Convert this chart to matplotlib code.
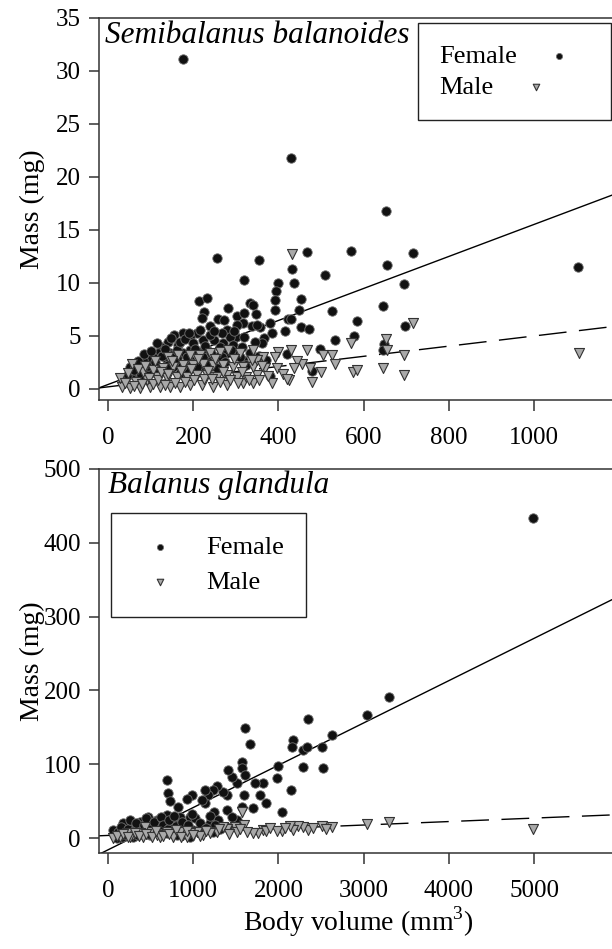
import numpy as np
import matplotlib
matplotlib.use("Agg")
from matplotlib import pyplot as plt

plt.rcParams['font.family'] = ['Liberation Serif', 'DejaVu Serif']
plt.rcParams['mathtext.fontset'] = 'custom'
plt.rcParams['mathtext.rm'] = 'Liberation Serif'

# Semibalanus balanoides - body volume (mm3) vs mass (mg)
sb_female_x = [177, 430, 653, 256, 354, 467, 570, 715, 655, 319, 400, 433, 437, 510, 394,
               695, 213, 232, 225, 220, 282, 302, 319, 333, 341, 347, 392, 392, 453, 448,
               526, 646, 697, 584, 423, 430, 453, 471, 380, 357, 366, 361, 533, 577, 498,
               648, 646, 480, 380, 1103,
               239, 258, 272, 280, 300, 316, 319, 337, 349, 304, 271, 249, 224, 208, 192,
               177, 156, 165, 142, 192, 216, 232, 177, 146, 124, 118, 106, 91, 83, 67,
               52, 59, 44, 138, 161, 192, 232, 255, 279, 302, 318, 333, 286, 239, 267,
               294, 314, 153, 122, 99, 75, 36, 271, 216, 185, 169]
sb_female_y = [31.1, 21.8, 16.8, 12.4, 12.2, 12.9, 13.0, 12.8, 11.7, 10.3, 10.0, 11.3, 10.0, 10.8, 9.2,
               9.9, 8.3, 8.6, 7.3, 6.7, 7.6, 6.9, 7.2, 8.1, 7.9, 7.1, 8.4, 7.45, 8.5, 7.45,
               7.4, 7.8, 5.9, 6.4, 6.6, 6.6, 5.85, 5.7, 6.2, 5.85, 4.8, 4.3, 4.6, 5.0, 3.8,
               4.25, 3.7, 1.7, 1.2, 11.5,
               5.9, 6.6, 6.5, 5.6, 4.9, 6.2, 4.9, 5.9, 6.0, 6.0, 4.3, 4.6, 4.6, 5.25, 4.9,
               5.25, 5.1, 4.15, 4.45, 3.7, 3.5, 3.7, 3.4, 3.4, 4.0, 3.4, 3.05, 2.9, 2.7, 2.1,
               2.1, 1.5, 1.2, 2.7, 2.9, 2.7, 2.7, 3.05, 3.4, 3.2, 2.7, 3.4, 4.9, 5.1, 5.25,
               4.15, 4.0, 2.1, 1.95, 1.5, 1.15, 0.7, 2.4, 2.1, 1.8, 1.5]
sb_female_x2 = [60, 70, 78, 85, 95, 100, 110, 115, 120, 128, 135, 140, 148, 150, 158,
                163, 170, 173, 180, 185, 190, 198, 200, 205, 210, 215, 222, 228, 236, 243,
                250, 256, 262, 268, 275, 288, 296, 310, 325, 345, 355, 370, 385, 415, 420]
sb_female_y2 = [1.8, 2.6, 1.3, 3.3, 2.2, 3.6, 2.5, 4.3, 1.6, 3.1, 3.8, 2.3, 4.8, 3.2, 2.5,
                3.7, 4.4, 2.2, 4.7, 3.0, 5.3, 2.4, 4.3, 3.8, 2.1, 5.6, 3.0, 4.1, 2.4, 3.4,
                5.5, 2.0, 4.0, 3.0, 2.5, 3.7, 5.5, 3.0, 2.3, 4.4, 3.1, 2.7, 5.3, 5.5, 3.3]
sb_male_x = [433, 400, 430, 468, 504, 527, 534, 570, 576, 584, 646, 652, 654, 696, 696,
             425, 480, 499, 474, 455, 443, 437, 396, 384, 341, 318, 279, 247, 220, 192,
             169, 146, 122, 99, 75, 52, 32, 28, 56, 67, 91, 114, 138, 161, 185,
             208, 232, 255, 279, 302, 325, 349, 369, 341, 318, 294, 271, 247, 224, 200,
             177, 153, 130, 106, 83, 142, 165, 192, 216, 239, 263, 282, 310, 341, 365,
             349, 716, 1105]
sb_male_y = [12.7, 3.5, 3.7, 3.7, 3.2, 3.2, 2.4, 4.3, 1.6, 1.8, 1.95, 4.7, 3.7, 3.2, 1.3,
             0.85, 0.7, 1.6, 1.95, 2.4, 2.6, 1.95, 1.95, 0.55, 0.55, 0.55, 0.4, 0.2, 0.4, 0.4,
             0.2, 0.2, 0.2, 0.2, 0.05, 0.05, 0.2, 1.0, 2.4, 0.7, 0.85, 1.15, 1.0, 1.15, 1.15,
             1.3, 1.3, 1.15, 1.3, 1.15, 1.15, 1.3, 1.95, 2.1, 2.1, 2.1, 2.25, 2.25, 2.4, 2.25,
             2.25, 2.1, 1.95, 1.8, 1.6, 3.05, 3.2, 3.2, 3.2, 3.4, 3.5, 3.7, 3.4, 3.7, 3.05,
             2.7, 6.2, 3.4]
sb_male_x2 = [40, 48, 62, 70, 80, 88, 96, 105, 110, 118, 125, 133, 140, 150, 158,
              172, 180, 195, 203, 212, 225, 236, 244, 252, 262, 270, 287, 296, 305, 314,
              330, 338, 355, 362, 375, 392, 410, 420]
sb_male_y2 = [0.6, 1.5, 0.3, 1.9, 0.5, 2.2, 1.0, 0.5, 2.6, 0.8, 1.6, 0.4, 1.4, 2.6, 0.6,
              1.7, 0.7, 1.9, 0.8, 2.8, 0.9, 1.7, 0.9, 2.8, 0.7, 1.6, 0.8, 2.8, 0.6, 1.6,
              0.8, 2.7, 0.8, 2.2, 1.2, 3.0, 1.4, 0.9]
sb_fit_female = (0.42, 0.0151)   # intercept, slope
sb_fit_male = (0.2, 0.0048)

# Balanus glandula
bg_female_x = [4990, 3298, 3036, 2343, 2633, 2508, 2175, 2156, 2293, 2332, 2285, 2520, 1999, 1980, 2148,
               2038, 1823, 1725, 1784, 1608, 1667, 1569, 1569, 1608, 1510, 1452, 1412, 1596, 1569, 1401,
               1393, 1354, 1275, 1236, 1178, 1138, 1138, 1099, 982, 931, 696, 708, 728, 826, 696,
               845, 962, 1021, 1244, 1295, 1197, 1393, 1510, 473, 571, 376, 258, 180, 63, 767,
               689, 571, 454, 336, 884, 1002, 1119, 1236, 689, 493, 297, 160, 102, 806, 962]
bg_female_y = [433, 191, 167, 161, 139, 123, 133, 124, 119, 124, 96, 94.5, 97, 81, 65,
               35, 75, 74, 58, 149, 128, 103.5, 94.5, 85, 74, 83, 92, 58, 42.5, 58,
               38, 63, 70, 65, 58, 47, 65, 51.5, 58, 52.5, 78, 60.6, 50.7, 42.5, 31,
               29, 29, 26.7, 35, 25, 20, 15, 24, 29, 24.4, 22, 17.6, 20, 11, 20,
               15, 15, 13, 15, 15, 11, 13, 8.6, 6.3, 4, 1.8, 1.8, 0, 4, 1.8]
bg_female_x2 = [120, 150, 200, 230, 260, 300, 330, 350, 400, 420, 450, 480, 520, 540, 600,
                620, 650, 700, 720, 750, 780, 800, 850, 870, 900, 940, 980, 1050, 1080, 1150,
                1200, 1260, 1320, 1450, 1700, 1850]
bg_female_y2 = [8, 15, 5, 12, 25, 9, 20, 4, 10, 18, 27, 6, 14, 22, 9,
                28, 17, 12, 24, 8, 30, 16, 11, 22, 6, 18, 33, 9, 20, 14,
                30, 18, 12, 28, 40, 48]
bg_male_x = [4990, 3298, 3036, 2633, 2508, 2343, 2293, 2234, 2175, 2136, 2038, 1980, 1823, 1765, 1706,
             1596, 1569, 1491, 1401, 1354, 1275, 1197, 1119, 1041, 962, 884, 845, 767, 689, 571,
             493, 434, 376, 297, 219, 141, 63, 258, 415, 610, 767, 923, 1080, 1510, 1628]
bg_male_y = [12, 22, 18.5, 15.4, 16.7, 11, 15.4, 16.7, 11, 16.7, 10, 10, 11, 6.3, 7.2,
             17.6, 35.7, 15.4, 11.8, 15.4, 8.6, 6.3, 4, 8.6, 6.3, 4, 8.6, 4, 8.6, 4,
             8.6, 15.4, 6.3, 4, 6.3, 1.8, 0, 1, 1, 1.8, 1, 1.8, 2.7, 8.6, 8.6]
bg_male_x2 = [100, 180, 240, 320, 360, 450, 520, 560, 640, 720, 800, 860, 930, 1000, 1150,
              1300, 1420, 1550, 1850, 1900, 2080, 2400, 2560]
bg_male_y2 = [3, 5, 2, 7, 3, 5, 2, 9, 3, 6, 11, 2, 9, 4, 9,
              12, 6, 12, 9, 13, 13, 14, 12]
bg_fit_female = (-16.0, 0.0573)
bg_fit_male = (3.5, 0.0047)

FEMALE = dict(marker='o', s=46, facecolor='#111111', edgecolor='#707070', linewidths=0.6, zorder=3)
MALE = dict(marker='v', s=52, facecolor='#a9a9a9', edgecolor='#333333', linewidths=0.8, zorder=4)
DASH = (0, (20, 9))


def style_axes(ax):
	ax.spines['right'].set_visible(False)
	for s in ['left', 'bottom', 'top']:
		ax.spines[s].set_linewidth(1.1)
		ax.spines[s].set_color('#333333')
	ax.tick_params(axis='y', direction='out', length=7, width=1.1, pad=6, labelsize=18, color='#333333')
	ax.tick_params(axis='x', direction='out', length=8, width=1.1, pad=11.5, labelsize=18, color='#333333')


def fit_line(ax, fit, **kw):
	xs = np.array(ax.get_xlim())
	ax.plot(xs, fit[0] + fit[1] * xs, color='black', lw=1.0, zorder=2, **kw)


def left_align_legend(leg):
	# marker on the right, but text rows flush left like the original
	for col in leg._legend_box.get_children()[1].get_children():
		col.align = 'left'


fig = plt.figure(figsize=(6.12, 9.49), dpi=100)
ax1 = fig.add_axes([99 / 612, 1 - 400 / 949, 541 / 612, 382 / 949])
ax2 = fig.add_axes([99 / 612, 1 - 853 / 949, 541 / 612, 384 / 949])

# top panel
ax1.set_xlim(-21, 1249)
ax1.set_ylim(-1.04, 35)
ax1.scatter(sb_female_x + sb_female_x2, sb_female_y + sb_female_y2, label='Female', **FEMALE)
ax1.scatter(sb_male_x + sb_male_x2, sb_male_y + sb_male_y2, label='Male', **MALE)
fit_line(ax1, sb_fit_female)
fit_line(ax1, sb_fit_male, linestyle=DASH)
ax1.set_xticks(range(0, 1001, 200))
ax1.set_yticks(range(0, 36, 5))
style_axes(ax1)
ax1.set_ylabel('Mass (mg)', fontsize=20)
ax1.yaxis.set_label_coords(-0.10, 0.5)
ax1.text(0.011, 0.992, 'Semibalanus balanoides', transform=ax1.transAxes, fontsize=22.5,
		 style='italic', ha='left', va='top')
leg = ax1.legend(loc='upper left', bbox_to_anchor=(0.59, 0.987), fontsize=19, markerfirst=False,
				 frameon=True, fancybox=False, framealpha=1, edgecolor='#222222', borderpad=0.8,
				 labelspacing=0.3, handlelength=2.3, handletextpad=0.45, markerscale=0.65,
				 borderaxespad=0)
leg.get_frame().set_linewidth(1.0)
left_align_legend(leg)

# bottom panel
ax2.set_xlim(-106, 6244)
ax2.set_ylim(-20.3, 500)
ax2.scatter(bg_female_x + bg_female_x2, bg_female_y + bg_female_y2, label='Female', **FEMALE)
ax2.scatter(bg_male_x + bg_male_x2, bg_male_y + bg_male_y2, label='Male', **MALE)
fit_line(ax2, bg_fit_female)
fit_line(ax2, bg_fit_male, linestyle=DASH)
ax2.set_xticks(range(0, 5001, 1000))
ax2.set_yticks(range(0, 501, 100))
style_axes(ax2)
ax2.set_ylabel('Mass (mg)', fontsize=20)
ax2.yaxis.set_label_coords(-0.10, 0.5)
ax2.text(0.017, 0.995, 'Balanus glandula', transform=ax2.transAxes, fontsize=22.5,
		 style='italic', ha='left', va='top')
leg = ax2.legend(loc='upper left', bbox_to_anchor=(0.022, 0.885), fontsize=19, markerfirst=True,
				 frameon=True, fancybox=False, framealpha=1, edgecolor='#222222', borderpad=0.85,
				 labelspacing=0.45, handlelength=2.0, handletextpad=0.75, markerscale=0.65,
				 borderaxespad=0)
leg.get_frame().set_linewidth(1.0)

fig.text(358 / 612, 1 - 922 / 949, 'Body volume (mm$^3$)', fontsize=20, ha='center', va='center')

fig.savefig('out.png', dpi=100)
